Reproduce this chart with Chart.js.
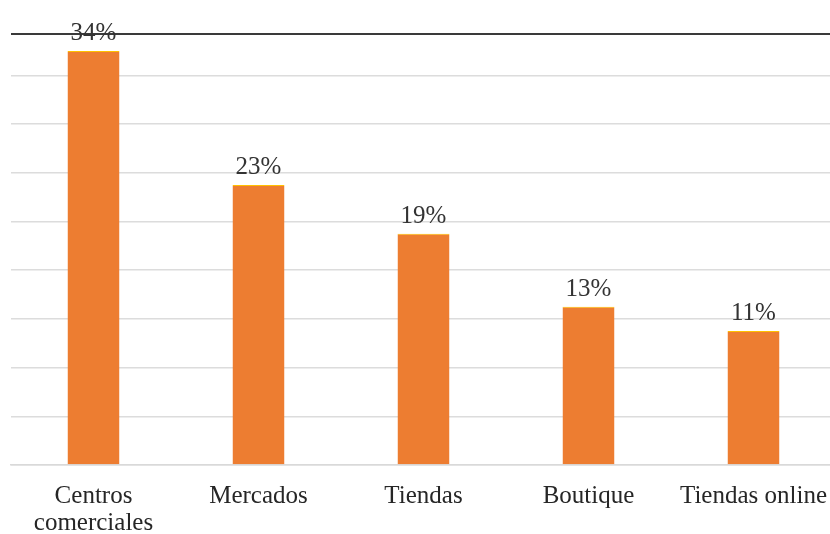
<!DOCTYPE html>
<html>
<head>
<meta charset="utf-8">
<script src="https://cdn.jsdelivr.net/npm/chart.js@4.4.1/dist/chart.umd.min.js"></script>
<style>
  html, body { margin: 0; padding: 0; background: #fff; overflow: hidden; }
  #wrap { width: 840px; height: 534px; }
</style>
</head>
<body>
<div id="wrap"><canvas id="chart" width="840" height="534"></canvas></div>
<script>
// ── Lugares de compra: bar chart ──

const categories = [['Centros', 'comerciales'], 'Mercados', 'Tiendas', 'Boutique', 'Tiendas online'];
const shares = [34, 23, 19, 13, 11];
const yMax = 35.4;
const yStep = 4;

const labelFont = "'Liberation Serif', 'Times New Roman', serif";

// frame line across the top of the plot area + value labels above each bar
const valueLabels = {
  id: 'valueLabels',
  afterDatasetsDraw(chart) {
    const ctx = chart.ctx;
    const area = chart.chartArea;
    const meta = chart.getDatasetMeta(0);
    ctx.save();
    ctx.strokeStyle = '#3a3a3a';
    ctx.lineWidth = 2;
    ctx.beginPath();
    ctx.moveTo(area.left, area.top);
    ctx.lineTo(area.right, area.top);
    ctx.stroke();

    ctx.font = `25px ${labelFont}`;
    ctx.fillStyle = '#333333';
    ctx.textAlign = 'center';
    ctx.textBaseline = 'alphabetic';
    meta.data.forEach((bar, i) => {
      ctx.fillText(shares[i] + '%', bar.x, bar.y - 11);
    });
    ctx.restore();
  }
};

new Chart(document.getElementById('chart'), {
  type: 'bar',
  data: {
    labels: categories,
    datasets: [{
      data: shares,
      backgroundColor: '#ED7D31',
      borderColor: '#FFC000',
      borderWidth: { top: 1, left: 0, right: 0, bottom: 0 },
      borderSkipped: 'bottom',
      categoryPercentage: 1,
      barPercentage: 0.315
    }]
  },
  options: {
    responsive: false,
    animation: false,
    layout: { padding: { top: 34, left: 11, right: 4, bottom: 0 } },
    plugins: {
      legend: { display: false },
      tooltip: { enabled: false }
    },
    scales: {
      x: {
        grid: { display: false },
        border: { display: true, color: '#d9d9d9', width: 1.5 },
        ticks: {
          color: '#262626',
          padding: 10,
          maxRotation: 0,
          autoSkip: false,
          font: { family: labelFont, size: 25, lineHeight: 1.08 }
        },
        afterFit(scale) { scale.height = 69; }
      },
      y: {
        display: true,
        min: 0,
        max: yMax,
        ticks: { display: false, stepSize: yStep, includeBounds: false },
        border: { display: false },
        grid: {
          drawTicks: false,
          lineWidth: 1.5,
          color: '#dcdcdc'
        },
        afterFit(scale) { scale.width = 0; }
      }
    }
  },
  plugins: [valueLabels]
});
</script>
</body>
</html>
